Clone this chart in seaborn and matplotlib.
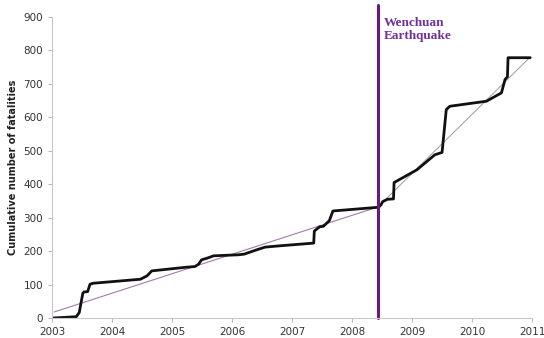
import numpy as np
import pandas as pd
import seaborn as sns
import matplotlib.pyplot as plt

# cumulative fatalities (decimal years)
years = [2003.0, 2003.40, 2003.45, 2003.51, 2003.53, 2003.59, 2003.63, 2003.68,
         2004.47, 2004.58, 2004.66, 2005.24, 2005.38, 2005.44, 2005.49, 2005.60,
         2005.69, 2006.10, 2006.20, 2006.41, 2006.55, 2006.80, 2007.36, 2007.37,
         2007.46, 2007.52, 2007.62, 2007.68, 2008.36, 2008.44, 2008.48, 2008.51,
         2008.59, 2008.69, 2008.70, 2008.83, 2009.08, 2009.38, 2009.50, 2009.57,
         2009.63, 2010.24, 2010.49, 2010.55, 2010.59, 2010.60, 2010.97]
fatalities = [0, 4, 16, 74, 78, 79, 101, 104,
              116, 126, 141, 152, 154, 161, 174, 180,
              186, 189, 191, 204, 212, 216, 224, 260,
              273, 274, 291, 320, 330, 331, 338, 348,
              355, 356, 405, 418, 443, 488, 495, 623,
              633, 648, 673, 713, 721, 778, 778]

# linear trends before and after the earthquake
trend_before_years = [2003.03, 2008.43]
trend_before_values = [18, 332]
trend_after_years = [2008.43, 2010.97]
trend_after_values = [332, 780]

quake_year = 2008.43
year_ticks = list(range(2003, 2012))
y_ticks = list(range(0, 1000, 100))

df = pd.DataFrame({"year": years, "fatalities": fatalities})
before = pd.DataFrame({"year": trend_before_years, "fatalities": trend_before_values})
after = pd.DataFrame({"year": trend_after_years, "fatalities": trend_after_values})

sns.set_style("ticks")
fig = plt.figure(figsize=(5.44, 3.38), dpi=100)
ax = fig.add_axes([0.096, 0.059, 0.882, 0.891])

sns.lineplot(data=before, x="year", y="fatalities", ax=ax, color="#a878b0", linewidth=0.8)
sns.lineplot(data=after, x="year", y="fatalities", ax=ax, color="#b0a0b0", linewidth=0.8)
sns.lineplot(data=df, x="year", y="fatalities", ax=ax, color="#111111", linewidth=2.0)
# earthquake marker runs a little above the plot area
ax.plot([quake_year, quake_year], [0, 937], color="#6a1a7a", linewidth=2.2, clip_on=False)
ax.text(quake_year + 0.1, 900, "Wenchuan\nEarthquake", color="#7030a0", fontsize=9.5,
        fontweight="bold", family="Liberation Serif", va="top", ha="left", linespacing=1.15)

ax.set_xlim(2003, 2011)
ax.set_ylim(0, 900)
ax.set_xticks(year_ticks)
ax.set_yticks(y_ticks)
ax.tick_params(labelsize=7.5, colors="#bbbbbb", labelcolor="#333333", length=3, width=0.8)
ax.set_xlabel("")
ax.set_ylabel("Cumulative number of fatalities", fontsize=7, fontweight="bold", color="#222222")
sns.despine(ax=ax)
for s in ["left", "bottom"]:
    ax.spines[s].set_color("#c8c8c8")

plt.savefig("out.png", dpi=100)
